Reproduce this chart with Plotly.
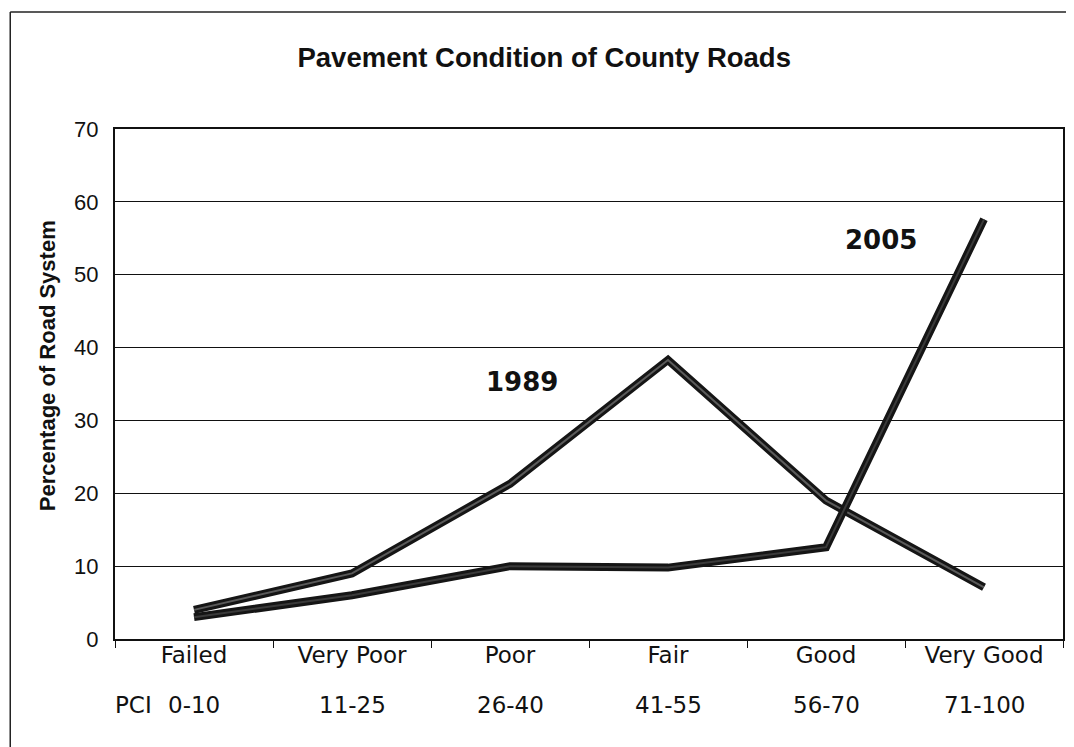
import plotly.graph_objects as go

categories = ["Failed", "Very Poor", "Poor", "Fair", "Good", "Very Good"]
pci_ranges = ["0-10", "11-25", "26-40", "41-55", "56-70", "71-100"]
pct_1989 = [4, 9, 21.3, 38.3, 19, 7.1]
pct_2005 = [3, 6, 10, 9.8, 12.6, 57.6]
y_ticks = [0, 10, 20, 30, 40, 50, 60, 70]

TAHOMA = "DejaVu Sans, sans-serif"
ARIAL = "Liberation Sans, Arial, sans-serif"

fig = go.Figure()
# 1989: dark outline with lighter core (scanned look)
fig.add_trace(go.Scatter(x=categories, y=pct_1989, mode="lines",
                         line=dict(color="#151515", width=8), showlegend=False, hoverinfo="skip"))
fig.add_trace(go.Scatter(x=categories, y=pct_1989, mode="lines",
                         line=dict(color="#5a5a5a", width=2), showlegend=False, name="1989"))
fig.add_trace(go.Scatter(x=categories, y=pct_2005, mode="lines",
                         line=dict(color="#151515", width=8), showlegend=False, hoverinfo="skip"))
fig.add_trace(go.Scatter(x=categories, y=pct_2005, mode="lines",
                         line=dict(color="#3a3a3a", width=2), showlegend=False, name="2005"))

annotations = []
for c, r in zip(categories, pci_ranges):
    annotations.append(dict(x=c, xref="x", y=-0.129, yref="paper", text=r, showarrow=False,
                            font=dict(family=TAHOMA, size=23, color="#111"),
                            xanchor="center", yanchor="middle"))
annotations.append(dict(x=0.019, xref="paper", y=-0.129, yref="paper", text="PCI", showarrow=False,
                        font=dict(family=TAHOMA, size=23, color="#111"),
                        xanchor="center", yanchor="middle"))
annotations.append(dict(x=0.4295, xref="paper", y=0.504, yref="paper", text="<b>1989</b>",
                        showarrow=False, font=dict(family="DejaVu Sans", size=26, color="#111"),
                        xanchor="center", yanchor="middle"))
annotations.append(dict(x=0.808, xref="paper", y=0.782, yref="paper", text="<b>2005</b>",
                        showarrow=False, font=dict(family="DejaVu Sans", size=26, color="#111"),
                        xanchor="center", yanchor="middle"))
annotations.append(dict(x=-0.0716, xref="paper", y=0.535, yref="paper",
                        text="<b>Percentage of Road System</b>", textangle=-90, showarrow=False,
                        font=dict(family=ARIAL, size=22, color="#111"),
                        xanchor="center", yanchor="middle"))

# outer frame of the original figure (left and top edges visible)
shapes = [
    dict(type="line", xref="paper", yref="paper", x0=-0.1105, x1=-0.1105, y0=1.2294, y1=-0.3,
         line=dict(color="#222", width=1.5)),
    dict(type="line", xref="paper", yref="paper", x0=-0.1105, x1=1.05, y0=1.2294, y1=1.2294,
         line=dict(color="#222", width=1.5)),
]

fig.update_layout(
    width=1066, height=739,
    margin=dict(l=107, r=9, t=121, b=108),
    paper_bgcolor="white", plot_bgcolor="white",
    title=dict(text="<b>Pavement Condition of County Roads</b>", x=0.503, xanchor="center",
               y=1 - 49 / 739, yanchor="middle", yref="container",
               font=dict(family=ARIAL, size=27.5, color="#111")),
    xaxis=dict(type="category", categoryorder="array", categoryarray=categories,
               showgrid=False, showline=True, linecolor="#111", linewidth=2, mirror=True,
               ticks="outside", tickson="boundaries", ticklen=7, tickcolor="#111", tickwidth=1,
               tickfont=dict(family=TAHOMA, size=23, color="#111"), ticklabelstandoff=-6,
               range=[-0.5, 5.5], fixedrange=True),
    yaxis=dict(range=[0, 70], tickvals=y_ticks, showgrid=True, gridcolor="#111", gridwidth=1.2,
               showline=True, linecolor="#111", linewidth=2, mirror=True, ticks="",
               tickfont=dict(family=ARIAL, size=22, color="#111"), ticklabelstandoff=10,
               zeroline=False, fixedrange=True),
    annotations=annotations,
    shapes=shapes,
)

fig.write_html("out.html")
